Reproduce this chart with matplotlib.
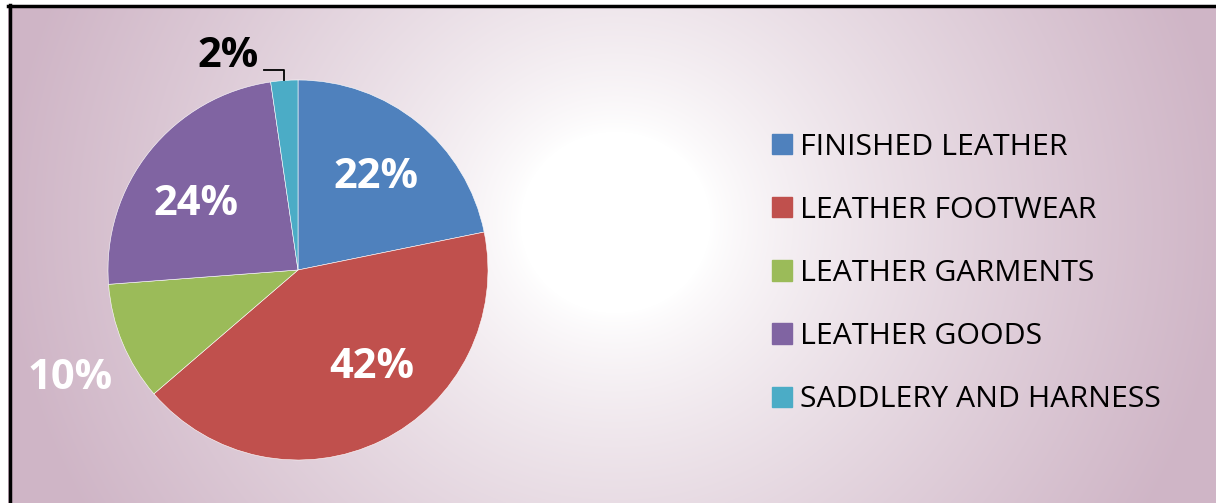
import numpy as np
import matplotlib.pyplot as plt

categories = ["FINISHED LEATHER", "LEATHER FOOTWEAR", "LEATHER GARMENTS",
              "LEATHER GOODS", "SADDLERY AND HARNESS"]
shares = [21.8, 41.9, 10.1, 23.9, 2.3]
colors = ["#4f81bd", "#c0504d", "#9bbb59", "#8064a2", "#4bacc6"]

# label placement per slice (radius in pie units, angle nudge in degrees)
label_r = [0.635, 0.645, 1.33, 0.64, 1.18]
label_nudge = [-1, 11, 3, 6, 14]
label_color = ["white", "white", "white", "white", "black"]

W, H = 1216, 503
fig = plt.figure(figsize=(W / 100, H / 100), dpi=100)
plt.rcParams['font.family'] = ['Open Sans', 'DejaVu Sans']

# radial background
bg = fig.add_axes([0, 0, 1, 1])
yy, xx = np.mgrid[0:H, 0:W]
d = np.hypot(xx - 615, (yy - 222) * 1.05)
t = np.clip((d - 95) / 520, 0, 1) ** 0.8
edge = np.array([207, 181, 198]) / 255.0
img = (1 - t)[..., None] * np.ones(3) + t[..., None] * edge
img[:5, :] = 1
img[:, :8] = 1
bg.imshow(img, extent=[0, W, H, 0], aspect="auto")
bg.set_xlim(0, W)
bg.set_ylim(H, 0)
bg.axis("off")
# frame (top and left only visible)
bg.plot([8, W], [5.5, 5.5], color="black", lw=2.5)
bg.plot([9.5, 9.5], [4.5, H], color="black", lw=2.5)

R = 190
cx, cy = 298, 270
ax = fig.add_axes([(cx - R) / W, (H - cy - R) / H, 2 * R / W, 2 * R / H])
wedges, _ = ax.pie(shares, colors=colors, startangle=90, counterclock=False,
                   wedgeprops=dict(linewidth=0.4, edgecolor="white"))
ax.set_xlim(-1, 1)
ax.set_ylim(-1, 1)
ax.set_aspect("equal")

cum = 0
for i, v in enumerate(shares):
    mid = 90 - (cum + v / 2) * 3.6
    cum += v
    a = np.deg2rad(mid + label_nudge[i])
    x, y = label_r[i] * np.cos(a), label_r[i] * np.sin(a)
    ax.text(x, y, f"{round(v)}%", ha="center", va="center", fontsize=30,
            fontweight="bold", color=label_color[i], clip_on=False)
    if i == 4:
        m = np.deg2rad(mid)
        ex, ey = np.cos(m), np.sin(m)
        ax.plot([ex, ex, ex - 0.105], [ey, ey + 0.055, ey + 0.055],
                color="black", lw=1.3, clip_on=False)

handles = [plt.Rectangle((0, 0), 1, 1, color=c) for c in colors]
fig.legend(handles, categories, loc="center left", bbox_to_anchor=(772 / W, 1 - 273.5 / H),
           frameon=False, fontsize=21.8, handlelength=0.66, handleheight=0.66,
           handletextpad=0.26, labelspacing=1.13, borderpad=0, borderaxespad=0)

fig.savefig("out.png", dpi=100)
